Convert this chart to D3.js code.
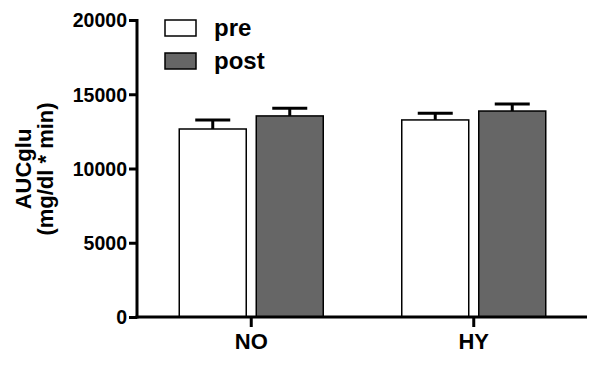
<!DOCTYPE html>
<html>
<head>
<meta charset="utf-8">
<script src="https://cdn.jsdelivr.net/npm/d3@7"></script>
<style>
  html, body { margin: 0; padding: 0; background: #fff; }
  svg { display: block; }
  text { font-family: "Liberation Sans", Arial, Helvetica, sans-serif; font-weight: bold; fill: #000; }
</style>
</head>
<body>
<svg id="chart" width="595" height="371"></svg>
<script>
const groups = ["NO", "HY"];
const series = ["pre", "post"];
const preValues = [12660, 13270];
const preErrors = [600, 450];
const postValues = [13540, 13870];
const postErrors = [520, 470];
const yTicks = [0, 5000, 10000, 15000, 20000];
const colors = { pre: "#ffffff", post: "#666666" };

const svg = d3.select("#chart");
const plot = { left: 137, right: 587, top: 20, bottom: 317 };

const y = d3.scaleLinear().domain([0, 20000]).range([plot.bottom, plot.top]);
const x0 = d3.scaleBand().domain(groups).range([140, 585]).padding(0);
const bw = x0.bandwidth();
const x1 = d3.scaleBand().domain(series).range([bw / 2 - 72, bw / 2 + 72]).paddingInner(0.13);

const data = [];
groups.forEach((g, i) => {
  data.push({ group: g, s: "pre", v: preValues[i], e: preErrors[i] });
  data.push({ group: g, s: "post", v: postValues[i], e: postErrors[i] });
});

// error bars (drawn behind bars)
const eb = svg.append("g");
data.forEach(d => {
  const cx = x0(d.group) + x1(d.s) + x1.bandwidth() / 2;
  eb.append("line").attr("x1", cx).attr("x2", cx)
    .attr("y1", y(d.v)).attr("y2", y(d.v + d.e))
    .attr("stroke", "#000").attr("stroke-width", 3);
  eb.append("line").attr("x1", cx - 17.5).attr("x2", cx + 17.5)
    .attr("y1", y(d.v + d.e)).attr("y2", y(d.v + d.e))
    .attr("stroke", "#000").attr("stroke-width", 3);
});

// bars
svg.append("g").selectAll("rect").data(data).join("rect")
  .attr("x", d => x0(d.group) + x1(d.s))
  .attr("width", x1.bandwidth())
  .attr("y", d => y(d.v))
  .attr("height", d => y(0) - y(d.v))
  .attr("fill", d => colors[d.s])
  .attr("stroke", "#000")
  .attr("stroke-width", 1.5);

// y axis
const yAxis = svg.append("g").attr("transform", `translate(${plot.left},0)`)
  .call(d3.axisLeft(y).tickValues(yTicks).tickFormat(d3.format("d")).tickSize(8).tickPadding(2));
yAxis.select(".domain").attr("stroke-width", 3).attr("d", `M0,${plot.top - 1}V${plot.bottom + 1.5}`);
yAxis.selectAll(".tick line").attr("stroke-width", 3);
yAxis.selectAll(".tick text").style("font-size", "19.5px").style("font-family", "'Liberation Sans', Arial, sans-serif").style("font-weight", "bold").attr("dy", "0.35em");

// x axis
const xAxis = svg.append("g").attr("transform", `translate(0,${plot.bottom})`)
  .call(d3.axisBottom(x0).tickSize(10).tickPadding(6));
xAxis.select(".domain").attr("stroke-width", 3).attr("d", `M${plot.left - 1.5},0H${plot.right}`);
xAxis.selectAll(".tick line").attr("stroke-width", 3);
xAxis.selectAll(".tick text").style("font-size", "22px").style("font-family", "'Liberation Sans', Arial, sans-serif").style("font-weight", "bold");

// y title
svg.append("text").attr("transform", "translate(31,169) rotate(-90)")
  .attr("text-anchor", "middle").style("font-size", "22px").text("AUCglu");
svg.append("text").attr("transform", "translate(53,169) rotate(-90)")
  .attr("text-anchor", "middle").style("font-size", "22px").text("(mg/dl * min)");

// legend
const legend = svg.append("g");
series.forEach((s, i) => {
  const ly = 20 + i * 33;
  legend.append("rect").attr("x", 165).attr("y", ly).attr("width", 31).attr("height", 16)
    .attr("fill", colors[s]).attr("stroke", "#000").attr("stroke-width", 1.5);
  legend.append("text").attr("x", 214).attr("y", ly + 16).style("font-size", "24px").text(s);
});
</script>
</body>
</html>
